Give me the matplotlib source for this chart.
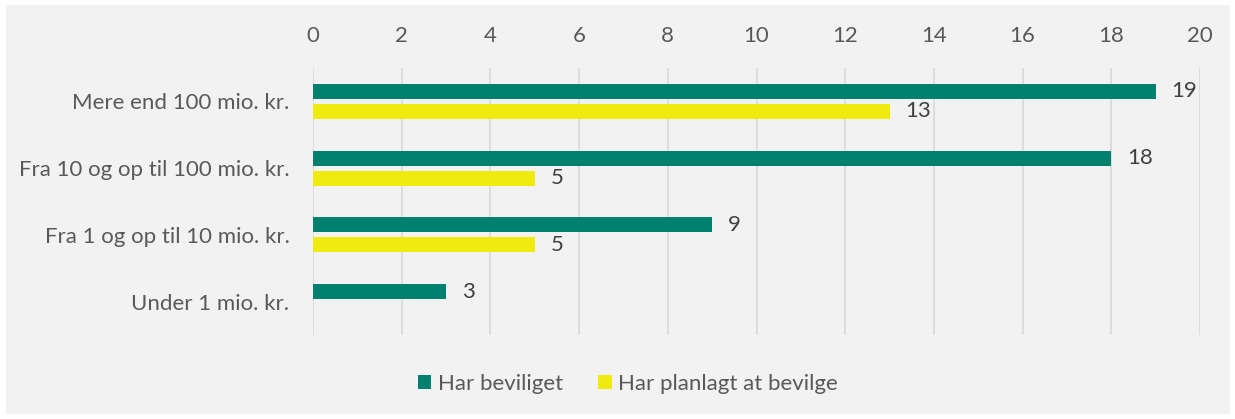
import matplotlib.pyplot as plt
import numpy as np
from matplotlib.patches import Rectangle, Patch

# data
categories = ["Mere end 100 mio. kr.", "Fra 10 og op til 100 mio. kr.",
              "Fra 1 og op til 10 mio. kr.", "Under 1 mio. kr."]
har_beviliget = [19, 18, 9, 3]
har_planlagt = [13, 5, 5, 0]
series_names = ["Har beviliget", "Har planlagt at bevilge"]

teal = "#00806F"
yellow = "#F0EB0F"
text_col = "#595959"
bg = "#F2F2F2"

plt.rcParams['font.family'] = ['Lato', 'DejaVu Sans']

fig = plt.figure(figsize=(12.35, 4.19), dpi=100)
fig.patch.set_facecolor("white")
fig.patches.append(Rectangle((6 / 1235, 5 / 419), 1224 / 1235, 409 / 419,
                             transform=fig.transFigure, facecolor=bg,
                             edgecolor="none", zorder=-10))

ax = fig.add_axes([313 / 1235, 1 - 335 / 419, 887 / 1235, 267 / 419])
ax.patch.set_alpha(0)

y = np.arange(len(categories))
h = 0.225
off = 0.15
b1 = ax.barh(y - off, har_beviliget, height=h, color=teal, zorder=3)
b2 = ax.barh(y + off, har_planlagt, height=h, color=yellow, zorder=3)

for bars, vals in [(b1, har_beviliget), (b2, har_planlagt)]:
    for bar, v in zip(bars, vals):
        if v == 0:
            continue
        ax.text(v + 0.36, bar.get_y() + bar.get_height() / 2, str(v),
                va="center", ha="left", fontsize=16, color="#404040")

ax.set_xlim(0, 20)
ax.set_ylim(len(categories) - 0.5, -0.5)
ax.set_xticks(range(0, 21, 2))
ax.xaxis.tick_top()
ax.tick_params(axis="x", length=0, pad=16, labelsize=16, labelcolor=text_col)
ax.set_yticks(y)
ax.set_yticklabels(categories)
ax.tick_params(axis="y", length=0, pad=17, labelsize=16, labelcolor=text_col)
ax.grid(axis="x", color="#D9D9D9", linewidth=1.2, zorder=0)
for s in ax.spines.values():
    s.set_visible(False)

handles = [Patch(facecolor=teal, label=series_names[0]),
           Patch(facecolor=yellow, label=series_names[1])]
fig.legend(handles=handles, loc="center", bbox_to_anchor=(628 / 1235, 1 - 384 / 419),
           ncol=2, frameon=False, fontsize=16, labelcolor=text_col,
           handlelength=0.6, handleheight=0.6, handletextpad=0.3, columnspacing=1.6)

fig.savefig("out.png", dpi=100, facecolor="white")
